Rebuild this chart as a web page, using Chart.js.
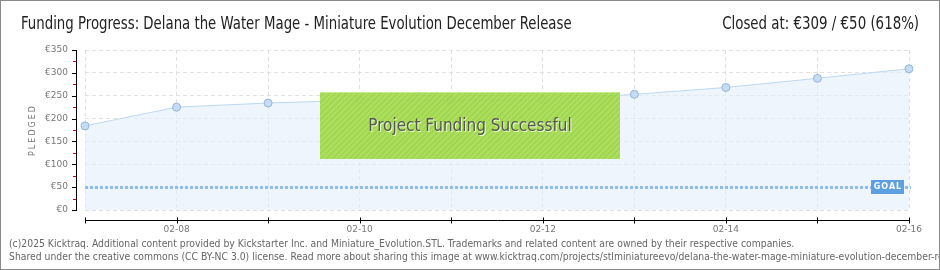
<!DOCTYPE html>
<html><head><meta charset="utf-8">
<script src="https://cdn.jsdelivr.net/npm/chart.js@4"></script>
<style>
html,body{margin:0;padding:0;background:#fff;}
#wrap{position:relative;width:940px;height:270px;overflow:hidden;}
#frame{position:absolute;left:0;top:0;width:938px;height:268px;border:1px solid #8a8a8a;pointer-events:none;}
canvas{position:absolute;left:0;top:0;}
.t{position:absolute;font-family:"Liberation Sans Narrow","DejaVu Sans Condensed",sans-serif;color:#222;white-space:nowrap;font-size:17px;}
#title{left:21px;top:13px;transform:scaleX(0.87);transform-origin:left top;}
#closed{right:21px;top:13px;transform:scaleX(0.875);transform-origin:right top;}
.foot{position:absolute;left:9px;font-family:"Liberation Sans Narrow","DejaVu Sans Condensed",sans-serif;font-size:11px;color:#666;white-space:nowrap;transform:scaleX(0.937);transform-origin:left top;}
#box{position:absolute;left:320px;top:92px;width:300px;height:66px;background:rgba(162,218,72,0.93);border-top:1px solid #c4ec8a;
background-image:repeating-linear-gradient(135deg,rgba(255,255,255,0.06) 0 2px,rgba(0,0,0,0.03) 2px 4px);}
#box span{position:absolute;left:0;right:0;top:22px;text-align:center;font-family:"DejaVu Sans Condensed","Liberation Sans Narrow",sans-serif;font-size:17px;color:#555;text-shadow:1px 1px 0 #eaffd0;}
</style></head>
<body><div id="wrap">
<canvas id="c" width="940" height="270"></canvas>
<div class="t" id="title">Funding Progress: Delana the Water Mage - Miniature Evolution December Release</div>
<div class="t" id="closed">Closed at: €309 / €50 (618%)</div>
<div id="box"><span>Project Funding Successful</span></div>
<div class="foot" style="top:237px">(c)2025 Kicktraq. Additional content provided by Kickstarter Inc. and Miniature_Evolution.STL. Trademarks and related content are owned by their respective companies.</div>
<div class="foot" style="top:250px">Shared under the creative commons (CC BY-NC 3.0) license. Read more about sharing this image at www.kicktraq.com/projects/stlminiatureevo/delana-the-water-mage-miniature-evolution-december-release/</div>
<div id="frame"></div>
</div>
<script>
const categories = ['02-07','02-08','02-09','02-10','02-11','02-12','02-13','02-14','02-15','02-16'];
const pledged = [184, 225, 234, 240, 240, 240, 253, 268, 288, 309];
const GOAL = 50;
const yTicks = [0, 50, 100, 150, 200, 250, 300, 350];
const minorTicks = [25, 75, 125, 175, 225, 275, 325];

const axisPlugin = {
  id: 'axes',
  afterDraw(chart) {
    const ctx = chart.ctx, a = chart.chartArea;
    const x = chart.scales.x, y = chart.scales.y;
    ctx.save();
    const ax = a.left - 9;
    ctx.strokeStyle = '#000'; ctx.lineWidth = 1;
    ctx.beginPath(); ctx.moveTo(ax + 0.5, a.top); ctx.lineTo(ax + 0.5, a.bottom + 1); ctx.stroke();
    yTicks.forEach(v => {
      const py = Math.round(y.getPixelForValue(v)) + 0.5;
      ctx.beginPath(); ctx.moveTo(ax - 4, py); ctx.lineTo(ax + 1, py); ctx.stroke();
    });
    ctx.strokeStyle = '#e00000';
    minorTicks.forEach(v => {
      const py = Math.round(y.getPixelForValue(v)) + 0.5;
      ctx.beginPath(); ctx.moveTo(ax - 3, py); ctx.lineTo(ax, py); ctx.stroke();
    });
    const by = a.bottom + 10.5;
    ctx.strokeStyle = '#000';
    ctx.beginPath(); ctx.moveTo(a.left, by); ctx.lineTo(a.right + 1, by); ctx.stroke();
    categories.forEach((c, i) => {
      const px = Math.round(x.getPixelForValue(i)) + 0.5;
      ctx.beginPath(); ctx.moveTo(px, by - 3); ctx.lineTo(px, by + 3); ctx.stroke();
    });
    ctx.translate(33, (a.top + a.bottom) / 2);
    ctx.rotate(-Math.PI / 2);
    ctx.fillStyle = '#777';
    ctx.font = '8px "DejaVu Sans"';
    ctx.textAlign = 'center'; ctx.textBaseline = 'middle';
    ctx.letterSpacing = '2px';
    ctx.fillText('PLEDGED', 0, 0);
    ctx.restore();

    ctx.save();
    const gy = Math.round(y.getPixelForValue(GOAL));
    ctx.fillStyle = '#5d9fe0';
    ctx.fillRect(a.right - 38, gy - 7, 33, 14);
    ctx.fillStyle = '#fff';
    ctx.font = 'bold 8px "DejaVu Sans"';
    ctx.textAlign = 'center'; ctx.textBaseline = 'middle';
    ctx.letterSpacing = '1px';
    ctx.fillText('GOAL', a.right - 21, gy);
    ctx.restore();
  }
};

const goalPlugin = {
  id: 'goal',
  afterDatasetsDraw(chart) {
    const ctx = chart.ctx, a = chart.chartArea, y = chart.scales.y;
    const gy = Math.round(y.getPixelForValue(GOAL)) + 0.5;
    ctx.save();
    ctx.strokeStyle = '#8fbdee';
    ctx.lineWidth = 3;
    ctx.setLineDash([3, 2]);
    ctx.beginPath(); ctx.moveTo(a.left, gy); ctx.lineTo(a.right + 2, gy); ctx.stroke();
    ctx.restore();
  }
};

new Chart(document.getElementById('c'), {
  type: 'line',
  data: {
    labels: categories,
    datasets: [{
      data: pledged,
      borderColor: '#bcd7f3',
      borderWidth: 1,
      backgroundColor: 'rgba(226,238,251,0.6)',
      fill: 'origin',
      pointRadius: 4,
      pointBackgroundColor: '#c4dcf6',
      pointBorderColor: '#97b4d6',
      pointBorderWidth: 1,
      tension: 0
    }]
  },
  options: {
    responsive: false,
    animation: false,
    layout: { padding: { left: 0, right: 31, top: 50, bottom: 30 } },
    plugins: { legend: { display: false }, tooltip: { enabled: false } },
    scales: {
      x: {
        type: 'category',
        offset: false,
        afterFit(s) { s.height = 30; },
        border: { display: false, dash: [4, 3] },
        grid: { color: '#e0e0e0', drawTicks: false },
        ticks: {
          padding: 14, autoSkip: false, maxRotation: 0,
          color: '#777', font: { family: 'DejaVu Sans', size: 9 },
          callback(v, i) { return i % 2 === 1 ? categories[i] : ''; }
        }
      },
      y: {
        min: 0, max: 350,
        afterFit(s) { s.width = 85; },
        afterBuildTicks(s) { s.ticks = yTicks.map(v => ({ value: v })); },
        border: { display: false, dash: [4, 3] },
        grid: { color: '#e0e0e0', drawTicks: false },
        ticks: {
          padding: 17, color: '#777', font: { family: 'DejaVu Sans', size: 9 },
          callback(v) { return '€' + v; }
        }
      }
    }
  },
  plugins: [goalPlugin, axisPlugin]
});
</script>
</body></html>
